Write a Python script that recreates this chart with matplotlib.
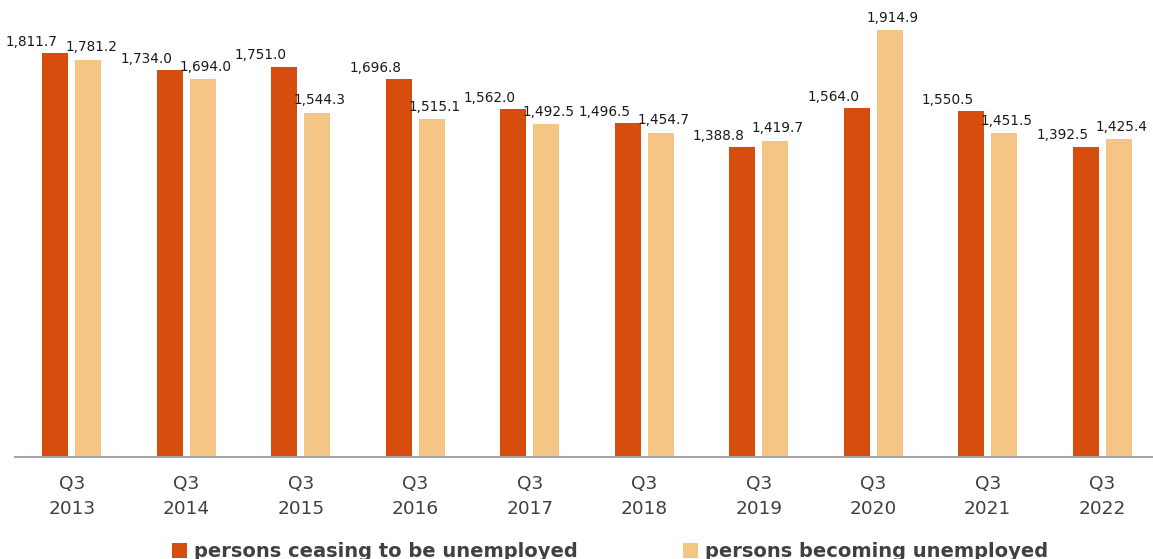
import matplotlib.pyplot as plt
import numpy as np

# values in thousands, Q3 of each year
years = ['2013', '2014', '2015', '2016', '2017', '2018', '2019', '2020', '2021', '2022']
tick_labels = [f'Q3\n{y}' for y in years]
ceasing = [1811.7, 1734.0, 1751.0, 1696.8, 1562.0, 1496.5, 1388.8, 1564.0, 1550.5, 1392.5]
becoming = [1781.2, 1694.0, 1544.3, 1515.1, 1492.5, 1454.7, 1419.7, 1914.9, 1451.5, 1425.4]
series_names = ['persons ceasing to be unemployed', 'persons becoming unemployed']

dark = '#D64D0E'
light = '#F5C585'
grey_text = '#404040'

W, H = 1153, 559
fig = plt.figure(figsize=(W / 100, H / 100), dpi=100)
ax = fig.add_axes([14.5 / W, 102 / H, 1145 / W, 457 / H])

x = np.arange(len(years))
w = 0.227
off = 0.144
b1 = ax.bar(x - off, ceasing, w, color=dark, label=series_names[0])
b2 = ax.bar(x + off, becoming, w, color=light, label=series_names[1])

for xi, v in zip(x, ceasing):
    ax.annotate(f'{v:,.1f}', (xi - off, v), xytext=(-17, 3), textcoords='offset points',
                ha='center', va='bottom', fontsize=9.8, color='#1a1a1a')
for xi, v in zip(x, becoming):
    ax.annotate(f'{v:,.1f}', (xi + off, v), xytext=(2, 4), textcoords='offset points',
                ha='center', va='bottom', fontsize=9.8, color='#1a1a1a')

ax.set_xlim(-0.5, len(years) - 0.5)
ax.set_ylim(0, 2050)
ax.set_xticks(x)
ax.set_xticklabels(tick_labels, fontsize=13.3, color=grey_text, linespacing=1.5)
ax.tick_params(axis='x', length=0, pad=13)
ax.set_yticks([])
for s in ['top', 'right', 'left']:
    ax.spines[s].set_visible(False)
ax.spines['bottom'].set_color('#A6A6A6')
ax.spines['bottom'].set_linewidth(1.5)

leg = fig.legend(handles=[b1, b2], loc='center', bbox_to_anchor=(0.529, 0.013), ncol=2,
                 frameon=False, handlelength=0.8, handleheight=0.8, handletextpad=0.35,
                 columnspacing=5.4, prop={'weight': 'bold', 'size': 14})
for t in leg.get_texts():
    t.set_color(grey_text)

fig.savefig('out.png', dpi=100)
